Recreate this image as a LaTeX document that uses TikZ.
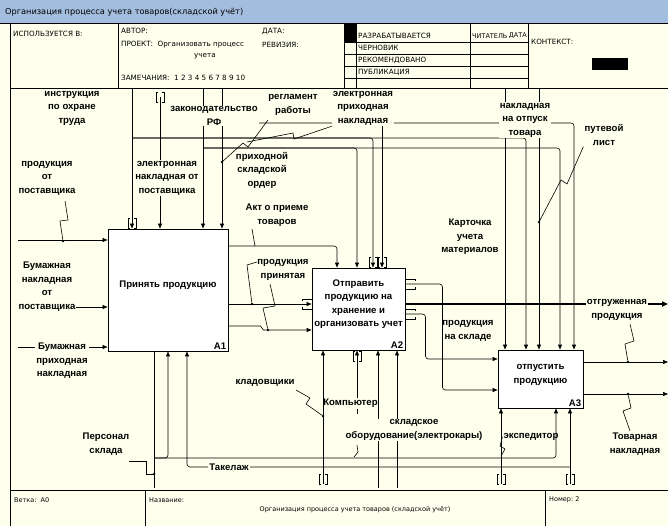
\documentclass[tikz,border=0pt]{standalone}
\usepackage{fontspec}
\setmainfont{Liberation Sans}
\newfontfamily\hdrfont{DejaVu Sans}
\usetikzlibrary{arrows.meta,positioning}

\definecolor{paper}{RGB}{255,255,238}
\definecolor{titlebar}{RGB}{163,189,222}

% tunnel brackets
\newcommand{\vtun}[1]{\draw[ln] ([shift={(-2,-5)}]#1) -- ++(-2,0) -- ++(0,10) -- ++(2,0) ([shift={(2,-5)}]#1) -- ++(2,0) -- ++(0,10) -- ++(-2,0);}
\newcommand{\htun}[1]{\draw[ln] ([shift={(-5,-3)}]#1) -- ++(0,-2) -- ++(10,0) -- ++(0,2) ([shift={(-5,3)}]#1) -- ++(0,2) -- ++(10,0) -- ++(0,-2);}

\begin{document}
\begin{tikzpicture}[x=1pt,y=-1pt]
  \tikzset{
    fbox/.style={draw,line width=0.9pt,fill=white,inner sep=0pt},
    boxtxt/.style={font=\bfseries\fontsize{9.6}{13.5}\selectfont,align=center},
    boxnum/.style={font=\bfseries\fontsize{9.6}{11}\selectfont,anchor=south east,inner sep=2pt},
    ln/.style={line width=0.6pt},
    arr/.style={ln,-{Triangle[length=5pt,width=4pt]}},
    rc/.style={rounded corners=3pt},
    lab/.style={font=\bfseries\fontsize{9.6}{13.5}\selectfont,align=center,inner sep=1pt},
    labf/.style={lab,fill=paper},
    dot/.style={circle,fill,inner sep=0pt,minimum size=2.6pt},
    hdr/.style={font=\hdrfont\fontsize{7.2}{8}\selectfont,anchor=west,inner sep=0pt},
    ftr/.style={font=\hdrfont\fontsize{6.5}{8}\selectfont,anchor=west,inner sep=0pt}
  }
  \useasboundingbox (0,0) rectangle (668,526);
  \fill[paper] (0,0) rectangle (668,526);
  \fill[titlebar] (0,0) rectangle (668,23);

  % activity boxes
  \node[fbox,minimum width=120pt,minimum height=122pt] (a1) at (168,290) {};
  \node[fbox,minimum width=93pt,minimum height=82pt] (a2) at (358.5,309) {};
  \node[fbox,minimum width=85pt,minimum height=58pt] (a3) at (540.5,379) {};
  \node[boxtxt] (a1t) at ([yshift=5pt]a1.center) {Принять продукцию};
  \node[boxtxt] (a2t) at ([yshift=5pt]a2.center) {Отправить\\продукцию на\\хранение и\\организовать учет};
  \node[boxtxt] (a3t) at ([yshift=4pt]a3.center) {отпустить\\продукцию};
  \node[boxnum] (a1n) at (a1.south east) {A1};
  \node[boxnum] (a2n) at (a2.south east) {A2};
  \node[boxnum] (a3n) at (a3.south east) {A3};

  % ports
  \coordinate (a1i1) at ([yshift=50pt]a1.west);
  \coordinate (a1i2) at ([yshift=-17pt]a1.west);
  \coordinate (a1i3) at ([yshift=-57pt]a1.west);
  \coordinate (a1c1) at ([xshift=-36pt]a1.north);
  \coordinate (a1c2) at ([xshift=-8pt]a1.north);
  \coordinate (a1c3) at ([xshift=35pt]a1.north);
  \coordinate (a1c4) at ([xshift=54pt]a1.north);
  \coordinate (a1o1) at ([yshift=44pt]a1.east);
  \coordinate (a1o2) at ([yshift=-14pt]a1.east);
  \coordinate (a1o3) at ([yshift=-36pt]a1.east);
  \coordinate (a1m1) at ([xshift=-14pt]a1.south);
  \coordinate (a1m2) at (a1.south);
  \coordinate (a1m3) at ([xshift=19pt]a1.south);
  \coordinate (a2i1) at ([yshift=5pt]a2.west);
  \coordinate (a2i2) at ([yshift=-21pt]a2.west);
  \coordinate (a2c1) at ([xshift=-21.5pt]a2.north);
  \coordinate (a2c2) at ([xshift=-1.5pt]a2.north);
  \coordinate (a2c3) at ([xshift=14.5pt]a2.north);
  \coordinate (a2c4) at ([xshift=23.5pt]a2.north);
  \coordinate (a2o1) at ([yshift=25pt]a2.east);
  \coordinate (a2o2) at ([yshift=5pt]a2.east);
  \coordinate (a2o3) at ([yshift=-5pt]a2.east);
  \coordinate (a2m1) at ([xshift=-35.5pt]a2.south);
  \coordinate (a2m2) at ([xshift=-1.5pt]a2.south);
  \coordinate (a2m3) at ([xshift=19.5pt]a2.south);
  \coordinate (a2m4) at ([xshift=38.5pt]a2.south);
  \coordinate (a3i1) at ([yshift=20pt]a3.west);
  \coordinate (a3i2) at ([yshift=-11pt]a3.west);
  \coordinate (a3c1) at ([xshift=-35.5pt]a3.north);
  \coordinate (a3c2) at ([xshift=-14.5pt]a3.north);
  \coordinate (a3c3) at ([xshift=-1.5pt]a3.north);
  \coordinate (a3c4) at ([xshift=19.5pt]a3.north);
  \coordinate (a3c5) at ([xshift=33.5pt]a3.north);
  \coordinate (a3o1) at ([yshift=17pt]a3.east);
  \coordinate (a3o2) at ([yshift=-15pt]a3.east);
  \coordinate (a3m1) at ([xshift=-39.5pt]a3.south);
  \coordinate (a3m2) at ([xshift=15.5pt]a3.south);
  \coordinate (a3m3) at ([xshift=29.5pt]a3.south);

  % free ends
  \coordinate (topb) at (0,89);
  \coordinate (sProd) at (18,240);
  \coordinate (sBum) at (18,307);
  \coordinate (sBpn) at (18,347);
  \coordinate (jInstr) at (132,138);
  \coordinate (sElNak) at (160,97);
  \coordinate (jLaw) at (203,148);
  \coordinate (sEpn) at (258,123);
  \coordinate (eOtg) at (668,304);
  \coordinate (eOut1) at (668,362);
  \coordinate (eOut2) at (668,394);
  \coordinate (sKlad) at (323,484);
  \coordinate (sObor1) at (378,488);
  \coordinate (sObor2) at (397,488);
  \coordinate (sPers) at (154,488);
  \coordinate (jPers) at (154,458);
  \coordinate (sTak) at (570,484);
  \coordinate (jTak) at (570,467);
  \coordinate (sExp) at (501,484);

  % inputs
  \draw[arr] (sProd) -- (a1i1);
  \draw[arr] (sBum) -- (a1i2);
  \draw[arr] (sBpn) -- (a1i3);
  % controls
  \draw[arr] (a1c1 |- topb) -- (a1c1);
  \draw[arr,rc] (jInstr) -| (a3c2);
  \draw[arr,rc] (jInstr) -| (a2c3);
  \draw[arr] (sElNak) -- (a1c2);
  \draw[arr] (a1c3 |- topb) -- (a1c3);
  \draw[arr] (a1c4 |- topb) -- (a1c4);
  \draw[arr,rc] (jLaw) -| (a3c4);
  \draw[arr,rc] (jLaw) -| (a2c2);
  \draw[arr,rc] (sEpn) -| (a3c5);
  \draw[arr] (a3c1 |- topb) -- (a3c1);
  \draw[arr] (a3c3 |- topb) -- (a3c3);
  % A1 -> A2
  \draw[arr,rc] (a1o1) -| (a2c1);
  \draw[arr] (a1o2) -- (a2i1);
  \draw[arr] (a1o3) -- ++(32,0) -- ++(3,4) -- (a2i2);
  % A2 -> A3 and out
  \draw[arr,rc] (a2o1) -- ++(37,0) |- (a3i2);
  \draw[arr,rc] (a2o3) -- ++(20,0) |- (a3i1);
  \draw[line width=1.5pt,-{Triangle[length=6pt,width=5pt]}] (a2o2) -- (eOtg);
  \draw[arr] (a3o1) -- (eOut1);
  \draw[arr] (a3o2) -- (eOut2);
  % mechanisms
  \draw[arr] (sKlad) -- (a2m1);
  \draw[arr] (sObor1) -- (a2m3);
  \draw[arr] (sObor2) -- (a2m4);
  \draw[ln] (sPers) -- (a1m1);
  \draw[arr,rc] (jPers) -| (a3m2);
  \draw[arr,rc] (jPers) -| (a1m2);
  \draw[arr] (sTak) -- (a3m3);
  \draw[arr,rc] (jTak) -| (a1m3);
  \draw[arr] (sExp) -- (a3m1);

  % labels
  \node[lab] (lInstr) at (72,108) {инструкция\\по охране\\труда};
  \node[labf] (lElNak) at (167,178) {электронная\\накладная от\\поставщика};
  \node[labf] (lLaw) at (214,116) {законодательство\\РФ};
  \node[lab] (lReg) at (293,105) {регламент\\работы};
  \node[labf] (lEpn) at (363,108) {электронная\\приходная\\накладная};
  \node[labf] (lOtp) at (525,120) {накладная\\на отпуск\\товара};
  \node[lab] (lPut) at (604,135) {путевой\\лист};
  \node[lab] (lPko) at (262,170) {приходной\\складской\\ордер};
  \node[lab] (lAkt) at (277,215) {Акт о приеме\\товаров};
  \node[lab] (lKart) at (470,237) {Карточка\\учета\\материалов};
  \node[lab] (lProd) at (47,178) {продукция\\от\\поставщика};
  \node[labf] (lBum) at (47,286.5) {Бумажная\\накладная\\от\\поставщика};
  \node[labf] (lBpn) at (62,361) {Бумажная\\приходная\\накладная};
  \node[lab] (lPrin) at (283,270) {продукция\\принятая};
  \node[lab] (lSkl) at (468,331) {продукция\\на складе};
  \node[labf] (lOtg) at (617,310) {отгруженная\\продукция};
  \node[lab] (lTov) at (635,444) {Товарная\\накладная};
  \node[lab] (lKlad) at (265,383) {кладовщики};
  \node[lab] (lComp) at (350.5,403) {Компьютер};
  \node[labf] (lObor) at (414,430) {складское\\оборудование(электрокары)};
  \node[lab] (lExp) at (531,437) {экспедитор};
  \node[lab] (lPers) at (106,444) {Персонал\\склада};
  \node[labf] (lTak) at (229,467) {Такелаж};

  % label-bound lines and leaders
  \draw[arr] (lEpn.south -| a2c4) -- (a2c4);
  \draw[arr] (lComp.north -| a2m2) -- (a2m2);
  \draw[ln] (lComp.south -| a2m2) -- ++(0,5);
  \node[dot] (dProd) at (63,241) {};
  \node[dot] (dReg) at (222,162) {};
  \node[dot] (dPut) at (539,222) {};
  \node[dot] (dPrin1) at (252,304) {};
  \node[dot] (dPrin2) at (268,330) {};
  \node[dot] (dOtg) at (628,362) {};
  \node[dot] (dTov) at (628,394) {};
  \node[dot] (dKlad) at (323,416) {};
  \node[dot] (dPers) at (154,474) {};
  \draw[ln] (65,201) -- (68,220) -- (60,221) -- (dProd);
  \draw[ln] (dReg) -- (243,143) -- (248,147) -- (268,120);
  \draw[ln] (247,142) -- (293,133) -- (294,139) -- (lEpn.south west);
  \draw[ln] (lPut.south west) -- (567,184) -- (561,180) -- (dPut);
  \draw[ln] (252,229) -- (255,246);
  \draw[ln] (257,262) -- (247,265) -- (dPrin1);
  \draw[ln] (270,284) -- (275,306) -- (263,308) -- (dPrin2);
  \draw[ln] (630,324) -- (634,341) -- (625,344) -- (dOtg);
  \draw[ln] (dTov) -- (631,408) -- (623,411) -- (630,431);
  \draw[ln] (296,390) -- (310,398) -- (306,404) -- (dKlad);
  \draw[ln] (357,445) -- (358,452) -- (354,457);
  \draw[ln] (lExp.west) -- (500,446) -- (505,449) -- (501,456);
  \draw[ln] (129,461) -- (146,461) -- (146,474) -- (dPers);

  % tunnels
  \vtun{132,223}
  \vtun{sElNak}
  \vtun{373,262}
  \vtun{382,262}
  \vtun{357,356}
  \vtun{323,479}
  \vtun{501,479}
  \vtun{570,479}
  \htun{307,304}
  \htun{410,284}
  \htun{410,314}

  % frame and header
  \draw[line width=0.8pt] (0,23) -- (668,23);
  \draw[line width=0.8pt] (10,23) -- (10,526);
  \draw[line width=0.8pt] (10,88) -- (668,88);
  \draw[line width=0.8pt] (10,490) -- (668,490);
  \foreach \xh in {118,344,356,470,528}
    \draw[ln] (\xh,23) -- (\xh,88);
  \foreach \yh in {42,54,66,78}
    \draw[ln] (344,\yh) -- (528,\yh);
  \fill (344,23) rectangle (356,42);
  \fill (592,58) rectangle (628,70);
  \draw[ln] (145,490) -- (145,526);
  \draw[ln] (545,490) -- (545,526);

  \node[hdr,font=\hdrfont\fontsize{8.2}{9}\selectfont] (ttl) at (5,12) {Организация процесса учета товаров(складской учёт)};
  \node[hdr] (hUsed) at (13,34) {ИСПОЛЬЗУЕТСЯ В:};
  \node[hdr] (hAut) at (121,31) {АВТОР:};
  \node[hdr] (hDat) at (262,31) {ДАТА:};
  \node[hdr] (hPrj) at (121,45) {ПРОЕКТ:\ \ Организовать процесс};
  \node[hdr] (hRev) at (262,45) {РЕВИЗИЯ:};
  \node[hdr,anchor=center] (hPrj2) at (205,56) {учета};
  \node[hdr] (hRem) at (121,78) {ЗАМЕЧАНИЯ:\ \ 1 2 3 4 5 6 7 8 9 10};
  \node[hdr] (hSt1) at (358,36) {РАЗРАБАТЫВАЕТСЯ};
  \node[hdr] (hSt2) at (358,48) {ЧЕРНОВИК};
  \node[hdr] (hSt3) at (358,60) {РЕКОМЕНДОВАНО};
  \node[hdr] (hSt4) at (358,72) {ПУБЛИКАЦИЯ};
  \node[ftr] (hRd) at (472,36) {ЧИТАТЕЛЬ};
  \node[ftr,anchor=east] (hRdD) at (527,36) {ДАТА};
  \node[hdr] (hCtx) at (531,42) {КОНТЕКСТ:};
  \node[ftr] (fBr) at (14,500) {Ветка:\ \ A0};
  \node[ftr] (fNm) at (149,500) {Название:};
  \node[ftr,anchor=center] (fTtl) at (355,510) {Организация процесса учета товаров (складской учёт)};
  \node[ftr] (fNo) at (549,500) {Номер:\ 2};
\end{tikzpicture}
\end{document}
